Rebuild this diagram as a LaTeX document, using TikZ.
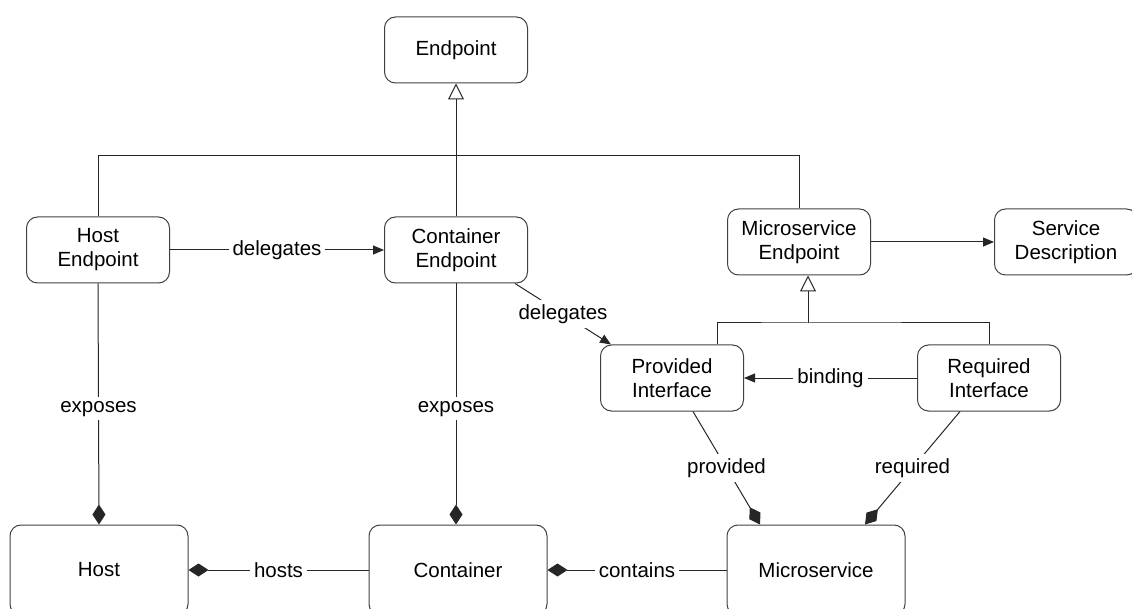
\documentclass[tikz,border=0pt]{standalone}
\usepackage{fontspec}
\setmainfont{Liberation Sans}
\usetikzlibrary{arrows.meta}
\begin{document}
\begin{tikzpicture}[x=1pt,y=-1pt,
  font=\fontsize{20.5}{24}\selectfont,
  box/.style={draw=black!75,line width=1pt,rounded corners=11pt,
    minimum width=143pt,minimum height=66pt,align=center,inner sep=2pt,text=black},
  bigbox/.style={box,minimum width=178pt,minimum height=90pt},
  conn/.style={draw=black!85,line width=1pt},
  lbl/.style={fill=white,inner sep=4pt,text=black},
  arr/.style={conn,-{Triangle[length=11pt,width=9pt]}},
  inh/.style={conn,-{Triangle[open,length=16pt,width=16pt,fill=white]}},
  comp/.style={conn,-{Diamond[length=20pt,width=13pt]}}]
\useasboundingbox (0,0) rectangle (1132,609);

% classes
\node[box] (ep)  at (456,50)  {Endpoint};
\node[box] (hep) at (98,250)  {Host\\Endpoint};
\node[box] (cep) at (456,250) {Container\\Endpoint};
\node[box] (mep) at (799,242) {Microservice\\Endpoint};
\node[box] (sd)  at (1066,242) {Service\\Description};
\node[box] (pi)  at (672,378) {Provided\\Interface};
\node[box] (ri)  at (989,378) {Required\\Interface};
\node[bigbox] (host) at (99,570)  {Host};
\node[bigbox] (cont) at (458,570) {Container};
\node[bigbox] (ms)   at (816,570) {Microservice};

% generalisation of Endpoint
\coordinate (j1) at (456,156);
\draw[conn] (hep.north) |- (j1);
\draw[conn] (mep.north) |- (j1);
\draw[inh] (cep.north) -- (ep.south);

% generalisation of Microservice Endpoint
\coordinate (j2) at (808,323);
\draw[conn] ([xshift=45pt]pi.north) |- (j2) -| (ri.north);
\draw[inh] (j2) -- (mep.south -| j2);

% associations
\draw[arr] (mep.east) -- (sd.west);
\draw[arr] (hep.east) -- node[lbl]{delegates} (cep.west);
\draw[arr] ([xshift=-13pt]cep.south east) -- node[lbl]{delegates} ([xshift=11pt]pi.north west);
\draw[arr] (ri.west) -- node[lbl]{binding} (pi.east);

% compositions
\draw[comp] (hep.south) -- node[lbl,pos=0.52]{exposes} (host.north);
\draw[comp] (cep.south) -- node[lbl,pos=0.52]{exposes} (cep.south |- cont.north);
\draw[comp] (cont.west) -- node[lbl]{hosts} (host.east);
\draw[comp] (ms.west) -- node[lbl]{contains} (cont.east);
\draw[comp] ([xshift=21pt]pi.south) -- node[lbl]{provided} ([xshift=-56pt]ms.north);
\draw[comp] ([xshift=-29pt]ri.south) -- node[lbl]{required} ([xshift=49pt]ms.north);
\end{tikzpicture}
\end{document}
